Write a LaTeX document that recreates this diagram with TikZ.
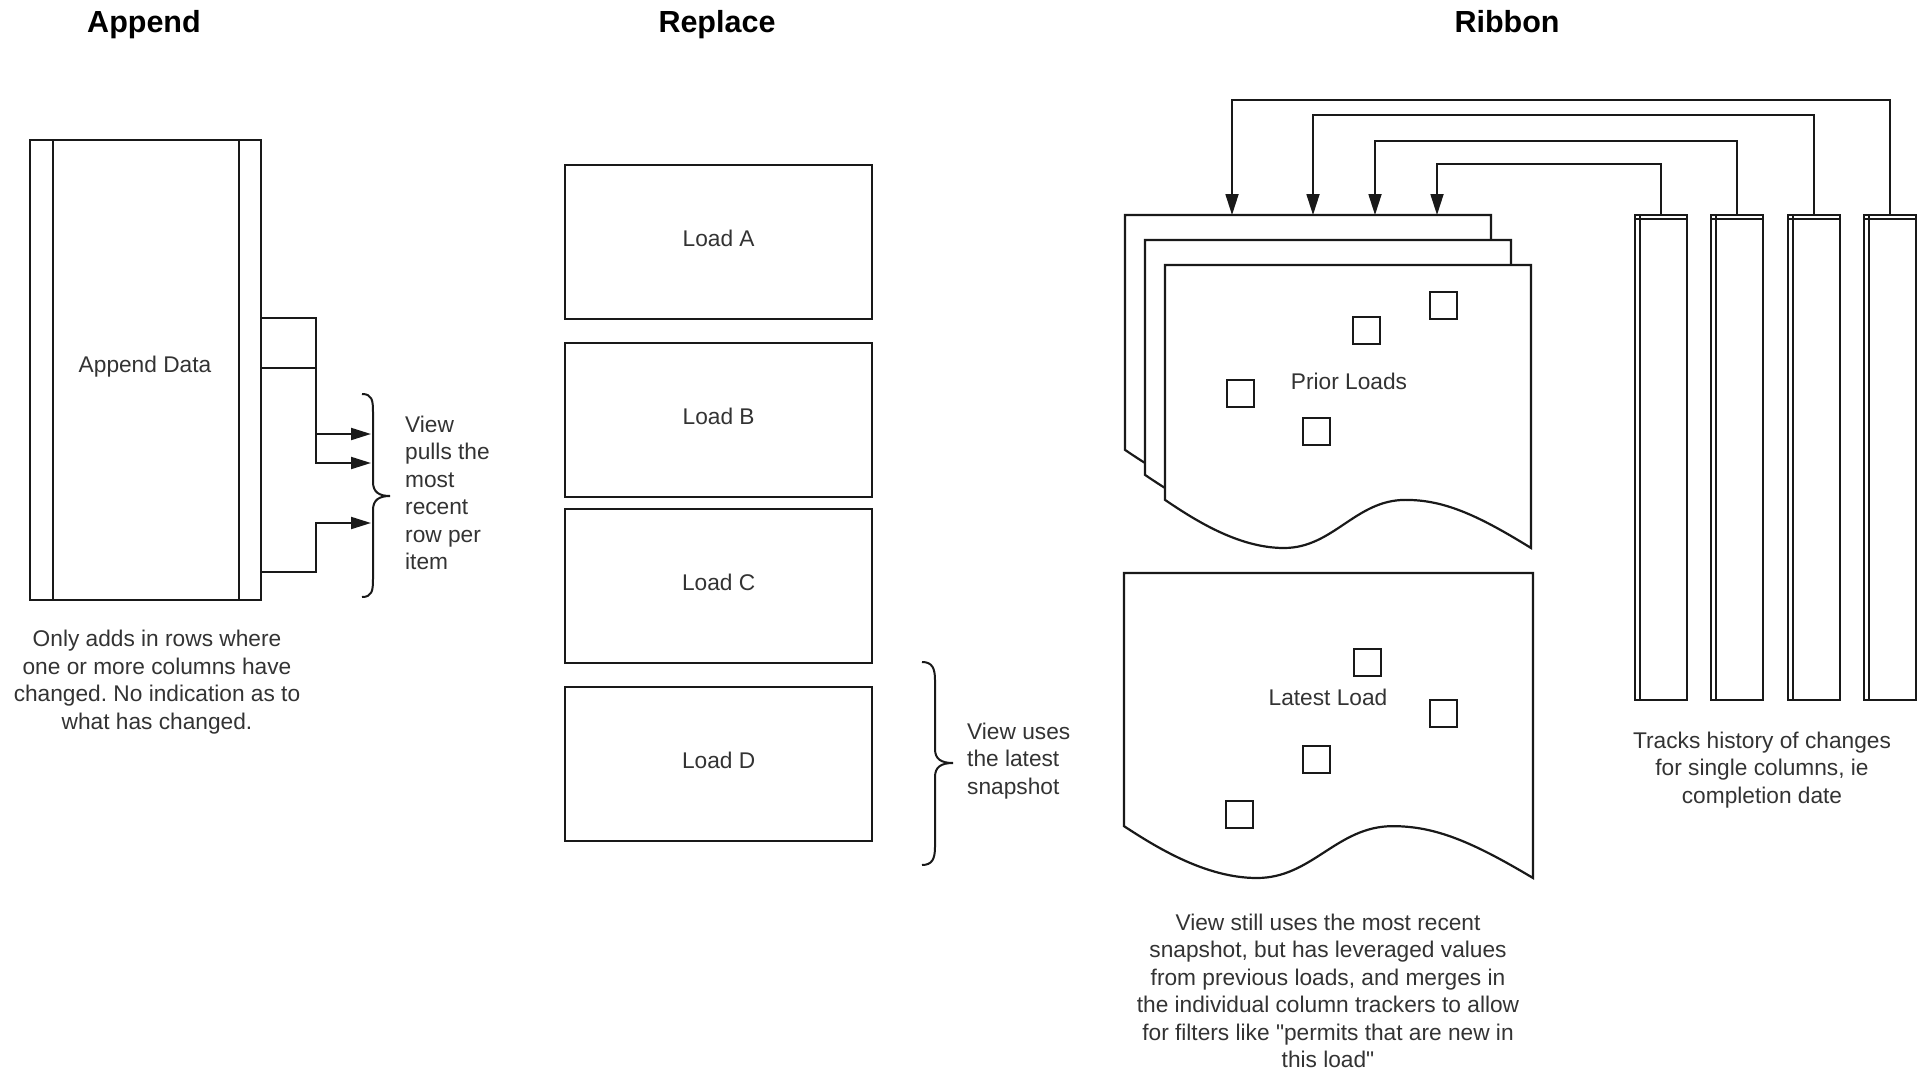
\documentclass[tikz,border=0pt]{standalone}
\usepackage{fontspec}
\setmainfont{Liberation Sans}
\usetikzlibrary{arrows.meta}
\frenchspacing
\newcommand\mydoc[5]{%
 \draw[docline] (#2,#3) -- ({#2+#4},#3) -- ({#2+#4},{#3+#5})
 .. controls ({#2+0.85*#4},{#3+0.88*#5}) and ({#2+0.76*#4},{#3+0.83*#5}) .. ({#2+0.657*#4},{#3+0.83*#5})
 .. controls ({#2+0.52*#4},{#3+0.83*#5}) and ({#2+0.46*#4},{#3+#5}) .. ({#2+0.325*#4},{#3+#5})
 .. controls ({#2+0.2*#4},{#3+#5}) and ({#2+0.08*#4},{#3+0.9*#5}) .. (#2,{#3+0.83*#5}) -- cycle;
 \coordinate (#1) at (#2,#3);}
\begin{document}
\begin{tikzpicture}[x=1pt,y=-1pt,
  box/.style={draw=black!90, line width=2.2pt, fill=white, inner sep=0pt},
  txt/.style={font=\fontsize{22.7}{27.5}\selectfont, text=black!80, inner sep=0pt},
  ttl/.style={font=\fontsize{30.5}{36}\selectfont\bfseries, text=black, inner sep=0pt, anchor=base},
  conn/.style={draw=black!90, line width=2pt},
  arr/.style={conn, -{Triangle[length=20pt,width=12pt]}},
  rarr/.style={draw=black!90, line width=1.8pt, -{Triangle[length=21pt,width=13pt]}},
  bracel/.style={draw=black!90, line width=2pt},
  docline/.style={draw=black!90, line width=2.2pt, fill=white},
  sq/.style={draw=black!90, line width=2pt, minimum size=27pt, inner sep=0pt},
  colbox/.style={draw=black!90, line width=1.6pt, minimum width=52pt, minimum height=485pt, inner sep=0pt, fill=white},
  colline/.style={draw=black!90, line width=1.4pt}
]
\useasboundingbox[fill=white] (0,0) rectangle (1921,1070);

% ---------- titles
\node[ttl] (tApp) at (144,33) {Append};
\node[ttl] (tRep) at (717,33) {Replace};
\node[ttl] (tRib) at (1507,33) {Ribbon};

% ---------- Append
\node[box, anchor=north west, minimum width=231pt, minimum height=460pt] (append) at (29,139) {};
\node[txt] (appTxt) at (145,367) {Append Data};
\draw[conn] ([xshift=24pt]append.north west) -- ([xshift=24pt]append.south west);
\draw[conn] ([xshift=-23pt]append.north east) -- ([xshift=-23pt]append.south east);

\coordinate (j1) at (316,318);
\coordinate (j2) at (316,368);
\coordinate (j3) at (316,434);
\coordinate (j4) at (316,572);
\coordinate (j5) at (316,523);
\coordinate (a1) at (371,434);
\coordinate (a2) at (371,463);
\coordinate (a3) at (371,523);
\draw[arr] (append.east |- j1) -- (j1) |- (a2);
\draw[conn] (append.east |- j2) -- (j2);
\draw[arr] (j3) -- (a1);
\draw[arr] (append.east |- j4) -- (j4) -- (j5) -- (a3);

\draw[bracel] (362,394) .. controls (372,394) and (373,400) .. (373,412) -- (373,482)
  .. controls (373,492) and (379,496) .. (390,496)
  .. controls (379,496) and (373,500) .. (373,510) -- (373,579)
  .. controls (373,591) and (372,597) .. (362,597);
\node[txt, anchor=west, align=left] (viewTxt) at (405,493) {View\\pulls the\\most\\recent\\row per\\item};
\node[txt, align=center] (appNote) at (157,682) {Only adds in rows where\\one or more columns have\\changed. No indication as to\\what has changed.};

% ---------- Replace
\node[box, anchor=north west, minimum width=307pt, minimum height=154pt] (loadA) at (564,164) {};
\node[box, anchor=north west, minimum width=307pt, minimum height=154pt] (loadB) at (564,342) {};
\node[box, anchor=north west, minimum width=307pt, minimum height=154pt] (loadC) at (564,508) {};
\node[box, anchor=north west, minimum width=307pt, minimum height=154pt] (loadD) at (564,686) {};
\node[txt] (lA) at ([yshift=4pt]loadA.center) {Load A};
\node[txt] (lB) at ([yshift=4pt]loadB.center) {Load B};
\node[txt] (lC) at ([yshift=4pt]loadC.center) {Load C};
\node[txt] (lD) at ([yshift=4pt]loadD.center) {Load D};

\draw[bracel] (922,662) .. controls (932,662) and (935,668) .. (935,680) -- (935,749)
  .. controls (935,759) and (941,763) .. (953,763)
  .. controls (941,763) and (935,767) .. (935,777) -- (935,847)
  .. controls (935,859) and (932,865) .. (922,865);
\node[txt, anchor=west, align=left] (repTxt) at (967,761) {View uses\\the latest\\snapshot};

% ---------- Ribbon: prior loads
\mydoc{pBack}{1125}{215}{366}{283}
\mydoc{pMid}{1145}{240}{366}{283}
\mydoc{pFront}{1165}{265}{366}{283}
\node[sq] (ps1) at (1443,305) {};
\node[sq] (ps2) at (1366,330) {};
\node[sq] (ps3) at (1240,393) {};
\node[sq] (ps4) at (1316,431) {};
\node[txt] (priorTxt) at (1349,381) {Prior Loads};

% latest load
\mydoc{pLatest}{1124}{573}{409}{305}
\node[sq] (ls1) at (1367,662) {};
\node[sq] (ls2) at (1443,713) {};
\node[sq] (ls3) at (1316,759) {};
\node[sq] (ls4) at (1239,814) {};
\node[txt] (latestTxt) at (1328,697) {Latest Load};

% column trackers
\foreach \n/\x in {1/1634,2/1710,3/1787,4/1863}{
  \node[colbox, anchor=north west] (c\n) at (\x,214) {};
  \draw[colline] ([xshift=6pt]c\n.north west) -- ([xshift=6pt]c\n.south west);
  \draw[colline] ([yshift=-5pt]c\n.north west) -- ([yshift=-5pt]c\n.north east);
}
\coordinate (t1) at (1437,215);
\coordinate (t2) at (1375,215);
\coordinate (t3) at (1313,215);
\coordinate (t4) at (1232,215);
\coordinate (h1) at (0,164);
\coordinate (h2) at (0,141);
\coordinate (h3) at (0,115);
\coordinate (h4) at (0,100);
\draw[rarr] (c1.north) -- (c1.north |- h1) -| (t1);
\draw[rarr] (c2.north) -- (c2.north |- h2) -| (t2);
\draw[rarr] (c3.north) -- (c3.north |- h3) -| (t3);
\draw[rarr] (c4.north) -- (c4.north |- h4) -| (t4);

\node[txt, align=center] (colTxt) at (1762,770) {Tracks history of changes\\for single columns, ie\\completion date};
\node[txt, align=center] (ribTxt) at (1328,991) {View still uses the most recent\\snapshot, but has leveraged values\\from previous loads, and merges in\\the individual column trackers to allow\\for filters like \textquotedbl permits that are new in\\this load\textquotedbl};
\end{tikzpicture}
\end{document}
